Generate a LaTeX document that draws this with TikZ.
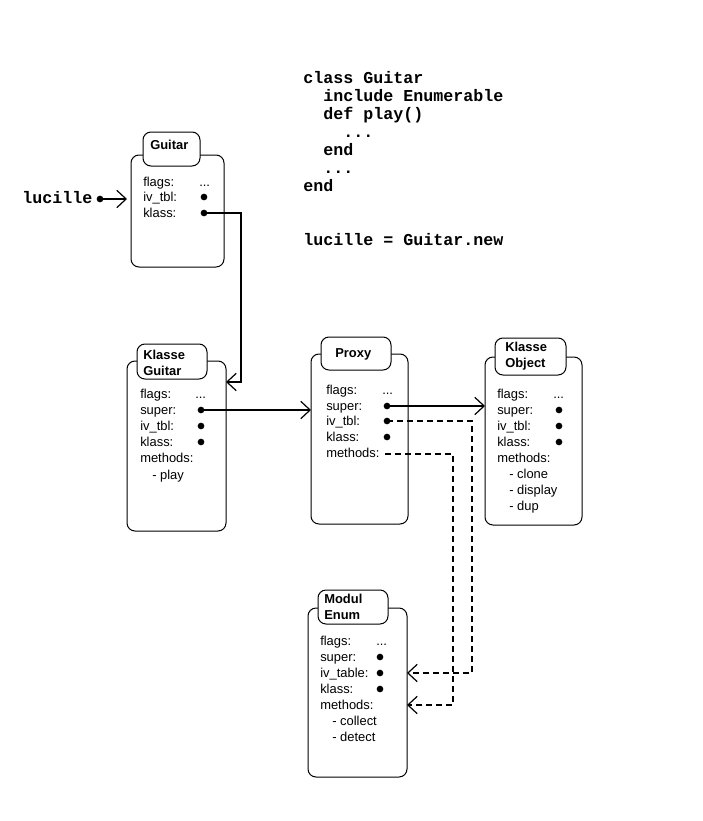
\documentclass[tikz,border=0pt]{standalone}
\usepackage{fontspec}
\setmainfont{Liberation Sans}
\newfontfamily\codefont{Liberation Mono}
\usetikzlibrary{arrows.meta,fit}
\tikzset{
  body/.style={draw, line width=0.75pt, rounded corners=6pt, inner sep=0pt, outer sep=0pt, fill=white},
  tabbox/.style={draw, line width=0.75pt, rounded corners=6pt, inner sep=0pt, outer sep=0pt, fill=white},
  fld/.style={anchor=base west, inner sep=0pt, font=\fontsize{9.7}{11}\selectfont},
  ttl/.style={anchor=base west, inner sep=0pt, font=\fontsize{9.7}{11}\selectfont\bfseries},
  code/.style={anchor=base west, inner sep=0pt, font=\codefont\bfseries\fontsize{12.5}{15}\selectfont},
  dotnode/.style={circle, fill, inner sep=0pt, minimum size=5pt},
  conn/.style={line width=1.5pt},
  arr/.style={conn, -{Straight Barb[length=7pt,width=13pt,line width=0.9pt]}},
  dsh/.style={conn, dash pattern=on 4.5pt off 3pt},
}
\begin{document}
\begin{tikzpicture}[x=0.75pt,y=-0.75pt]
\useasboundingbox (0,0) rectangle (703,821);

% ---------- code ----------
\node[code] (k1) at (303,83) {class Guitar};
\node[code] (k2) at (323,101) {include Enumerable};
\node[code] (k3) at (323,119) {def play()};
\node[code] (k4) at (343,137) {...};
\node[code] (k5) at (323,155) {end};
\node[code] (k6) at (323,173) {...};
\node[code] (k7) at (303,191) {end};
\node[code] (k8) at (303,245) {lucille = Guitar.new};

% ---------- lucille ----------
\node[code] (luc) at (22,203) {lucille};
\node[dotnode] (lucdot) at (100,199) {};

% ---------- Guitar ----------
\node[body, fit={(131,155)(224,267)}] (g) {};
\node[tabbox, fit={(143,132)(200,166)}] (gt) {};
\node[ttl] (gtt) at (150,149) {Guitar};
\node[fld] (g1) at (143,186) {flags:};
\node[fld] (g1v) at (199,186) {...};
\node[fld] (g2) at (143,201) {iv\_tbl:};
\node[dotnode] (g2d) at (204,197) {};
\node[fld] (g3) at (143,217) {klass:};
\node[dotnode] (g3d) at (204,213) {};

% ---------- Klasse Guitar ----------
\node[body, fit={(127,361)(226,531)}] (kg) {};
\node[tabbox, fit={(137,344)(207,379)}] (kgt) {};
\node[ttl] (kgt1) at (143,359) {Klasse};
\node[ttl] (kgt2) at (143,375) {Guitar};
\node[fld] (kg1) at (140,398) {flags:};
\node[fld] (kg1v) at (195,398) {...};
\node[fld] (kg2) at (140,414) {super:};
\node[dotnode] (kg2d) at (201,410) {};
\node[fld] (kg3) at (140,430) {iv\_tbl:};
\node[dotnode] (kg3d) at (201,426) {};
\node[fld] (kg4) at (140,446) {klass:};
\node[dotnode] (kg4d) at (201,442) {};
\node[fld] (kg5) at (140,462) {methods:};
\node[fld] (kg6) at (152,479) {- play};

% ---------- Proxy ----------
\node[body, fit={(311,354)(408,524)}] (p) {};
\node[tabbox, fit={(321,337)(391,370)}] (pt) {};
\node[ttl] (ptt) at (335,357) {Proxy};
\node[fld] (p1) at (326,394) {flags:};
\node[fld] (p1v) at (382,394) {...};
\node[fld] (p2) at (326,410) {super:};
\node[dotnode] (p2d) at (387,406) {};
\node[fld] (p3) at (326,425) {iv\_tbl:};
\node[dotnode] (p3d) at (387,421) {};
\node[fld] (p4) at (326,441) {klass:};
\node[dotnode] (p4d) at (387,437) {};
\node[fld] (p5) at (326,457) {methods:};
\coordinate (p5e) at (385,454);

% ---------- Klasse Object ----------
\node[body, fit={(485,357)(582,525)}] (ko) {};
\node[tabbox, fit={(495,338)(566,375)}] (kot) {};
\node[ttl] (kot1) at (505,351) {Klasse};
\node[ttl] (kot2) at (505,367) {Object};
\node[fld] (ko1) at (497,398) {flags:};
\node[fld] (ko1v) at (553,398) {...};
\node[fld] (ko2) at (497,414) {super:};
\node[dotnode] (ko2d) at (559,410) {};
\node[fld] (ko3) at (497,430) {iv\_tbl:};
\node[dotnode] (ko3d) at (559,426) {};
\node[fld] (ko4) at (497,446) {klass:};
\node[dotnode] (ko4d) at (559,442) {};
\node[fld] (ko5) at (497,462) {methods:};
\node[fld] (ko6) at (509,478) {- clone};
\node[fld] (ko7) at (509,494) {- display};
\node[fld] (ko8) at (509,510) {- dup};

% ---------- Modul Enum ----------
\node[body, fit={(308,608)(407,777)}] (me) {};
\node[tabbox, fit={(318,590)(388,624)}] (met) {};
\node[ttl] (met1) at (324,603) {Modul};
\node[ttl] (met2) at (324,619) {Enum};
\node[fld] (me1) at (320,645) {flags:};
\node[fld] (me1v) at (376,645) {...};
\node[fld] (me2) at (320,661) {super:};
\node[dotnode] (me2d) at (380,657) {};
\node[fld] (me3) at (320,677) {iv\_table:};
\node[dotnode] (me3d) at (380,673) {};
\node[fld] (me4) at (320,693) {klass:};
\node[dotnode] (me4d) at (380,689) {};
\node[fld] (me5) at (320,709) {methods:};
\node[fld] (me6) at (332,725) {- collect};
\node[fld] (me7) at (332,741) {- detect};

% ---------- connectors ----------
\draw[arr, shorten >=3pt] (lucdot.center) -- (g.west |- lucdot);
\coordinate (j1) at (241,382);
\draw[arr] (g3d.center) -| (j1) -- (kg.east |- j1);
\draw[arr] (kg2d.center) -- (p.west |- kg2d);
\draw[arr] (p2d.center) -- (ko.west |- p2d);
\coordinate (j2) at (472,673);
\coordinate (j3) at (453,705);
\draw[dsh, -{Straight Barb[length=7pt,width=13pt,line width=0.9pt]}] (p3d.center) -| (j2) -- (me.east |- j2);
\draw[dsh, -{Straight Barb[length=7pt,width=13pt,line width=0.9pt]}] (p5e) -| (j3) -- (me.east |- j3);
\end{tikzpicture}
\end{document}
